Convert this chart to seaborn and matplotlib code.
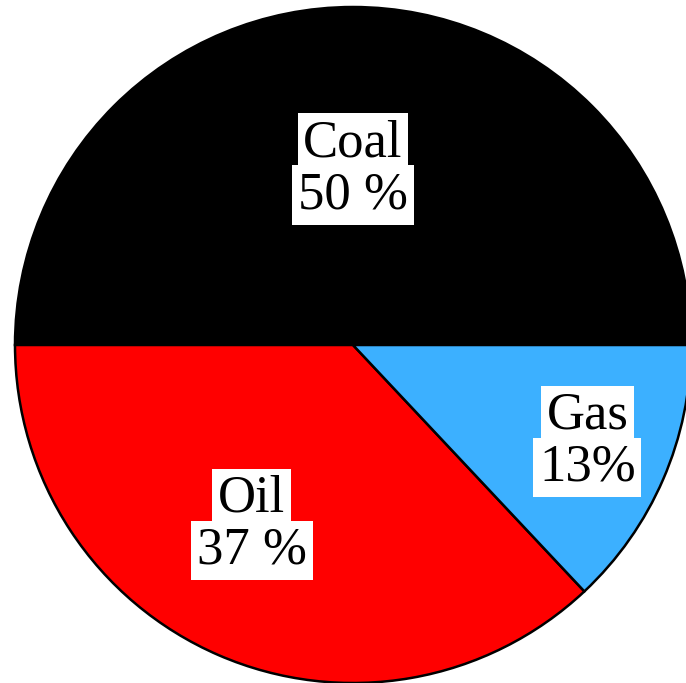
import numpy as np
import matplotlib.pyplot as plt
import seaborn as sns

# Fuel share data
fuels = ["Coal", "Oil", "Gas"]
shares = [50, 37, 13]
share_labels = ["50 %", "37 %", "13%"]
colors = ["#000000", "#ff0000", "#3cb0ff"]

sns.set_theme(style="white")
plt.rcParams['font.family'] = ['Liberation Serif', 'DejaVu Serif']

fig = plt.figure(figsize=(6.86, 6.83), dpi=100)
ax = fig.add_axes([0, 0, 1, 1])

cx, cy, r = 353, 683 - 345, 338
wedges, _ = ax.pie(shares, colors=colors, startangle=0, counterclock=True,
                   center=(cx, cy), radius=r, frame=True,
                   wedgeprops=dict(edgecolor="black", linewidth=1.8))
ax.set_xlim(0, 686)
ax.set_ylim(0, 683)
ax.set_aspect("auto")
ax.axis("off")

# label distance as a fraction of the radius, per slice
label_dist = [0.52, 0.61, 0.75]
angle_shift = [0, -6, 1]
for w, name, lab, d, s in zip(wedges, fuels, share_labels, label_dist, angle_shift):
    ang = np.deg2rad((w.theta1 + w.theta2) / 2 + s)
    x = cx + d * r * np.cos(ang)
    y = cy + d * r * np.sin(ang)
    box = dict(facecolor="white", edgecolor="none", pad=4)
    ax.text(x, y + 26, name, ha="center", va="center", fontsize=38, color="black", bbox=box)
    ax.text(x, y - 26, lab, ha="center", va="center", fontsize=38, color="black", bbox=box)

fig.savefig("out.png", dpi=100, facecolor="white")
